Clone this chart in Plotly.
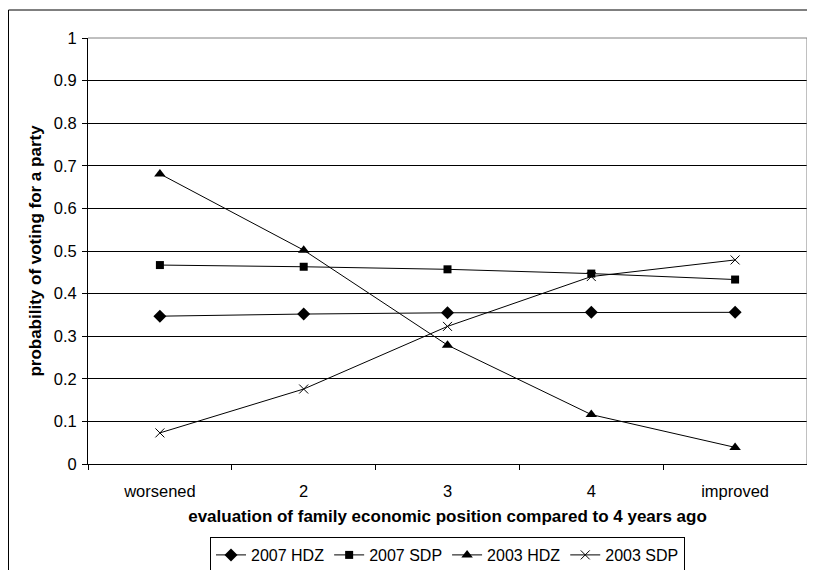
import plotly.graph_objects as go

categories = ["worsened", "2", "3", "4", "improved"]
hdz_2007 = [0.347, 0.352, 0.355, 0.356, 0.356]
sdp_2007 = [0.467, 0.463, 0.457, 0.447, 0.433]
hdz_2003 = [0.681, 0.502, 0.279, 0.116, 0.039]
sdp_2003 = [0.073, 0.176, 0.323, 0.440, 0.479]
y_ticks = [0, 0.1, 0.2, 0.3, 0.4, 0.5, 0.6, 0.7, 0.8, 0.9, 1]
y_tick_text = ["0", "0.1", "0.2", "0.3", "0.4", "0.5", "0.6", "0.7", "0.8", "0.9", "1"]

FONT = "Liberation Sans, Arial, sans-serif"

fig = go.Figure()
series = [
    ("2007 HDZ", hdz_2007, dict(symbol="diamond", size=10, color="black")),
    ("2007 SDP", sdp_2007, dict(symbol="square", size=8, color="black")),
    ("2003 HDZ", hdz_2003, dict(symbol="triangle-up", size=10, color="black")),
    ("2003 SDP", sdp_2003, dict(symbol="x-thin-open", size=9, color="black",
                               line=dict(color="black", width=1))),
]
for name, vals, mk in series:
    fig.add_trace(go.Scatter(
        x=categories, y=vals, name=name, mode="lines+markers",
        line=dict(color="black", width=1), marker=mk,
    ))

# page body has an 8px margin, so the figure is offset by 8px
OFF = 8
W, H = 815 - OFF, 570 - OFF
L, R, T, B = 88 - OFF, 8, 38 - OFF, 106
pw, ph = W - L - R, H - T - B

def py(page_y):
    # page pixel y -> paper y
    return (H - B - (page_y - OFF)) / ph

def px(page_x):
    return (page_x - OFF - L) / pw

fig.update_layout(
    width=W, height=H,
    margin=dict(l=L, r=R, t=T, b=B, autoexpand=False),
    paper_bgcolor="white", plot_bgcolor="white",
    font=dict(family=FONT, size=16.5, color="black"),
    showlegend=True,
    legend=dict(
        orientation="h", x=0.5, xanchor="center",
        y=py(537), yanchor="top",
        bordercolor="black", borderwidth=1,
        font=dict(size=16), itemwidth=30, tracegroupgap=0,
    ),
    xaxis=dict(
        type="category", range=[-0.5, 4.5], tickson="boundaries",
        ticks="outside", ticklen=5, tickcolor="black",
        showline=True, linecolor="black", linewidth=1,
        showgrid=False, zeroline=False, ticklabelstandoff=12,
        title=dict(text="<b>evaluation of family economic position compared to 4 years ago</b>",
                   font=dict(size=17), standoff=11),
        automargin=False,
    ),
    yaxis=dict(
        range=[0, 1], tickvals=y_ticks, ticktext=y_tick_text,
        ticks="outside", ticklen=5, tickcolor="black",
        showline=True, linecolor="black", linewidth=1,
        showgrid=True, gridcolor="black", gridwidth=1, zeroline=False,
        ticklabelstandoff=2,
        title=dict(text="<b>probability of voting for a party</b>",
                   font=dict(size=17), standoff=7),
        automargin=False,
    ),
    shapes=[
        # plot area border (right and top, grey)
        dict(type="line", xref="paper", yref="paper", x0=1, x1=1, y0=0, y1=1,
             line=dict(color="#808080", width=1)),
        dict(type="line", xref="paper", yref="paper", x0=0, x1=1, y0=1, y1=1,
             line=dict(color="#808080", width=1)),
        # chart area border (left edge placed at the figure's own left edge)
        dict(type="rect", xref="paper", yref="paper",
             x0=px(OFF + 0.5), x1=px(830),
             y0=py(590), y1=py(10),
             line=dict(color="black", width=1), fillcolor="rgba(0,0,0,0)", layer="below"),
    ],
)

fig.write_html("out.html")
